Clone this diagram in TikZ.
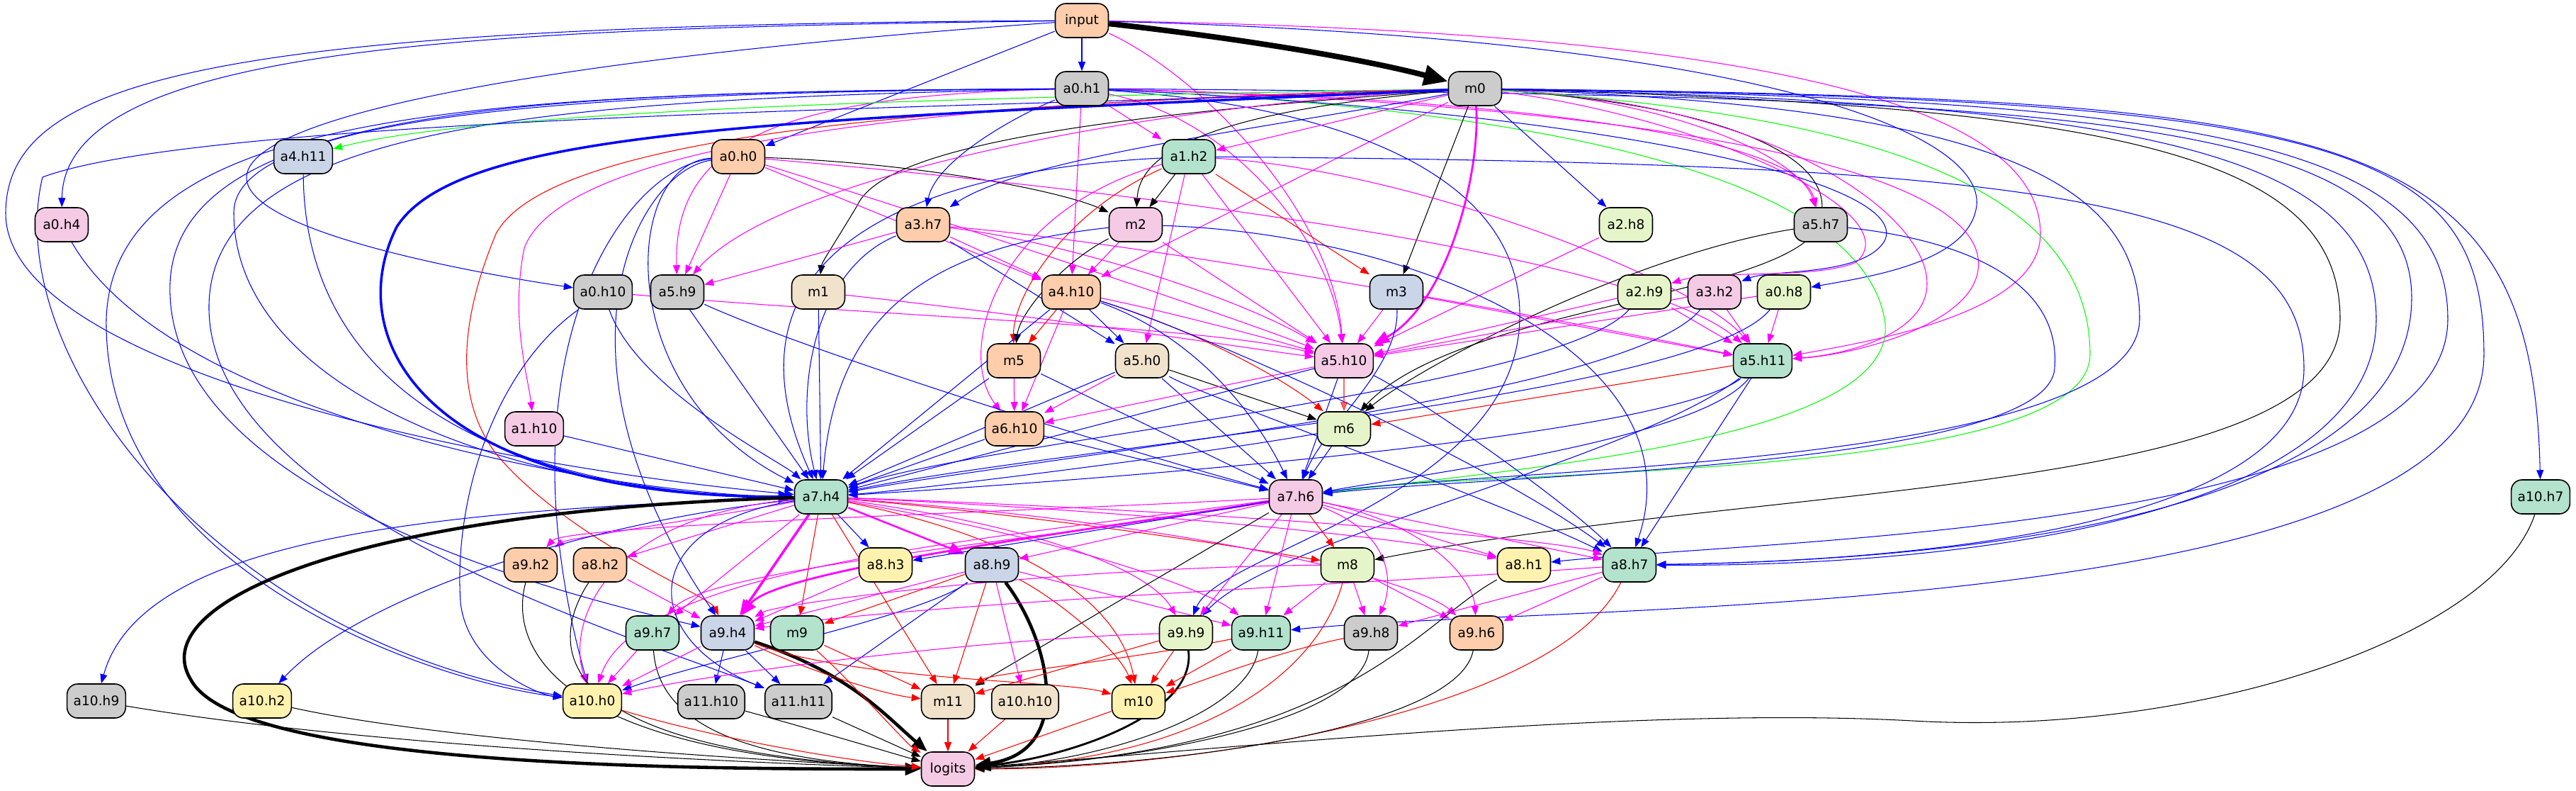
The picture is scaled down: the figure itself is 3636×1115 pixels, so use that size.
\documentclass[tikz,border=0pt]{standalone}
\usepackage{fontspec}
\setmainfont{DejaVu Sans}
\usetikzlibrary{arrows.meta,backgrounds}
\definecolor{fgr}{HTML}{CCCCCC}
\definecolor{fpe}{HTML}{FDCDAC}
\definecolor{fmi}{HTML}{B3E2CD}
\definecolor{fbl}{HTML}{CBD5E8}
\definecolor{fpi}{HTML}{F4CAE4}
\definecolor{flg}{HTML}{E6F5C9}
\definecolor{fye}{HTML}{FFF2AE}
\definecolor{fbe}{HTML}{F1E2CC}
\definecolor{cB}{RGB}{0,0,255}
\definecolor{cM}{RGB}{255,0,255}
\definecolor{cR}{RGB}{255,0,0}
\definecolor{cG}{RGB}{0,255,0}
\tikzset{
  nd/.style={draw=black, line width=0.45pt, rounded corners=1.5mm, minimum width=7.5mm,
    minimum height=4.8mm, inner xsep=0.9mm, inner ysep=0.4mm, font=\fontsize{5.3}{6}\selectfont},
  ed/.style={line width=0.3pt, -{Triangle[length=1.3mm,width=1mm]}},
  lb/.style={ed, draw=cB},
  lm/.style={ed, draw=cM},
  lr/.style={ed, draw=cR},
  lk/.style={ed, draw=black},
  lg/.style={ed, draw=cG},
  thk/.style={line width=#1, -{Triangle[length=2.2mm,width=1.7mm]}},
}
\begin{document}
\begin{tikzpicture}[x=0.1mm,y=-0.1mm]
\useasboundingbox (0,0) rectangle (3636,1115);
% ---------- nodes
\node[nd,fill=fpe] (input) at (1527,29) {input};
\node[nd,fill=fgr] (a0h1) at (1527,125) {a0.h1};
\node[nd,fill=fgr] (m0) at (2082,125) {m0};
\node[nd,fill=fbl] (a4h11) at (428,221) {a4.h11};
\node[nd,fill=fpe] (a0h0) at (1042,221) {a0.h0};
\node[nd,fill=fmi] (a1h2) at (1678,221) {a1.h2};
\node[nd,fill=fpi] (a0h4) at (87,317) {a0.h4};
\node[nd,fill=fpe] (a3h7) at (1303,317) {a3.h7};
\node[nd,fill=fpi] (m2) at (1603,317) {m2};
\node[nd,fill=flg] (a2h8) at (2295,317) {a2.h8};
\node[nd,fill=fgr] (a5h7) at (2570,317) {a5.h7};
\node[nd,fill=fgr] (a0h10) at (851,412) {a0.h10};
\node[nd,fill=fgr] (a5h9) at (956,412) {a5.h9};
\node[nd,fill=fbe] (m1) at (1155,412) {m1};
\node[nd,fill=fpe] (a4h10) at (1512,412) {a4.h10};
\node[nd,fill=fbl] (m3) at (1971,412) {m3};
\node[nd,fill=flg] (a2h9) at (2321,412) {a2.h9};
\node[nd,fill=fpi] (a3h2) at (2420,412) {a3.h2};
\node[nd,fill=flg] (a0h8) at (2518,412) {a0.h8};
\node[nd,fill=fpe] (m5) at (1431,509) {m5};
\node[nd,fill=fbe] (a5h0) at (1612,509) {a5.h0};
\node[nd,fill=fpi] (a5h10) at (1897,509) {a5.h10};
\node[nd,fill=fmi] (a5h11) at (2488,509) {a5.h11};
\node[nd,fill=fpi] (a1h10) at (754,605) {a1.h10};
\node[nd,fill=fpe] (a6h10) at (1432,605) {a6.h10};
\node[nd,fill=flg] (m6) at (1897,605) {m6};
\node[nd,fill=fmi] (a7h4) at (1159,701) {a7.h4};
\node[nd,fill=fpi] (a7h6) at (1829,701) {a7.h6};
\node[nd,fill=fmi] (a10h7) at (3586,701) {a10.h7};
\node[nd,fill=fpe] (a9h2) at (749,797) {a9.h2};
\node[nd,fill=fpe] (a8h2) at (847,797) {a8.h2};
\node[nd,fill=fye] (a8h3) at (1250,797) {a8.h3};
\node[nd,fill=fbl] (a8h9) at (1400,797) {a8.h9};
\node[nd,fill=flg] (m8) at (1902,797) {m8};
\node[nd,fill=fye] (a8h1) at (2151,797) {a8.h1};
\node[nd,fill=fmi] (a8h7) at (2300,797) {a8.h7};
\node[nd,fill=fmi] (a9h7) at (921,893) {a9.h7};
\node[nd,fill=fbl] (a9h4) at (1027,893) {a9.h4};
\node[nd,fill=fmi] (m9) at (1125,893) {m9};
\node[nd,fill=flg] (a9h9) at (1674,893) {a9.h9};
\node[nd,fill=fmi] (a9h11) at (1780,893) {a9.h11};
\node[nd,fill=fgr] (a9h8) at (1935,893) {a9.h8};
\node[nd,fill=fpe] (a9h6) at (2084,893) {a9.h6};
\node[nd,fill=fgr] (a10h9) at (136,989) {a10.h9};
\node[nd,fill=fye] (a10h2) at (370,989) {a10.h2};
\node[nd,fill=fye] (a10h0) at (836,989) {a10.h0};
\node[nd,fill=fgr] (a11h10) at (1004,990) {a11.h10};
\node[nd,fill=fgr] (a11h11) at (1127,990) {a11.h11};
\node[nd,fill=fbe] (m11) at (1338,990) {m11};
\node[nd,fill=fbe] (a10h10) at (1447,990) {a10.h10};
\node[nd,fill=fye] (m10) at (1607,990) {m10};
\node[nd,fill=fpi] (logits) at (1338,1085) {logits};
% ---------- edges
\begin{scope}[on background layer]
\fill[white] (0,0) rectangle (3636,1115);
% input
\draw[lb] (input) -- (a0h1);
\draw[lk,thk=2.2pt,-{Triangle[length=3.4mm,width=2.8mm]}] (input) .. controls (1800,60) and (1950,90) .. (m0);
\draw[lb] (input) -- (a0h0);
\draw[lb] (input) .. controls (700,40) and (90,60) .. (a0h4);
\draw[lb] (input) .. controls (300,35) and (10,110) .. (8,300) .. controls (6,520) and (700,660) .. (a7h4);
\draw[lb] (input) .. controls (800,80) and (350,160) .. (348,250) .. controls (346,330) and (700,390) .. (a0h10);
\draw[lm] (input) .. controls (1700,110) and (1880,300) .. (a5h10);
\draw[lm] (input) .. controls (2500,45) and (2880,150) .. (2880,330) .. controls (2880,440) and (2650,480) .. (a5h11);
\draw[lb] (input) .. controls (2500,55) and (2800,190) .. (2790,290) .. controls (2780,370) and (2640,390) .. (a0h8);
% a0h1
\draw[lb] (a0h1) .. controls (1420,170) and (1320,230) .. (a3h7);
\draw[lm] (a0h1) -- (a1h2);
\draw[lm] (a0h1) -- (a4h10);
\draw[lm] (a0h1) .. controls (1100,135) and (950,200) .. (a5h9);
\draw[lm] (a0h1) .. controls (1750,170) and (1880,350) .. (a5h10);
\draw[lm] (a0h1) .. controls (2200,140) and (2540,200) .. (a5h7);
\draw[lm] (a0h1) .. controls (2400,150) and (2830,250) .. (2790,390) .. controls (2770,460) and (2620,500) .. (a5h11);
\draw[lb] (a0h1) .. controls (1000,130) and (330,140) .. (330,300) .. controls (330,560) and (750,700) .. (a7h4);
\draw[lg] (a0h1) .. controls (2100,150) and (2620,230) .. (2660,450) .. controls (2690,620) and (2150,660) .. (a7h6);
\draw[lb] (a0h1) .. controls (2300,160) and (2700,260) .. (2660,340) .. controls (2630,390) and (2500,380) .. (a3h2);
\draw[lb] (a0h1) .. controls (800,130) and (250,140) .. (240,400) .. controls (230,700) and (800,840) .. (a9h4);
\draw[lb] (a0h1) .. controls (700,130) and (160,150) .. (150,450) .. controls (145,800) and (600,960) .. (a10h0);
\draw[lb] (a0h1) .. controls (800,140) and (300,170) .. (295,430) .. controls (290,720) and (900,900) .. (a11h11);
\draw[lb] (a0h1) .. controls (2900,135) and (3404,160) .. (3404,420) .. controls (3404,720) and (2800,790) .. (a8h7);
\draw[lb] (a0h1) .. controls (1900,150) and (2150,250) .. (2145,450) .. controls (2140,700) and (1720,780) .. (a9h9);
% m0
\draw[lm] (m0) -- (a1h2);
\draw[lb] (m0) .. controls (1800,180) and (1450,220) .. (a3h7);
\draw[lk] (m0) .. controls (1800,150) and (1610,190) .. (m2);
\draw[lk] (m0) .. controls (1600,160) and (1250,200) .. (1210,290) .. controls (1180,340) and (1160,370) .. (m1);
\draw[lk] (m0) -- (m3);
\draw[lb] (m0) -- (a2h8);
\draw[lm] (m0) .. controls (2350,140) and (2540,220) .. (a5h7);
\draw[lm,thk=0.8pt] (m0) .. controls (2090,250) and (2040,430) .. (a5h10);
\draw[lm] (m0) -- (a4h10);
\draw[lm] (m0) .. controls (1600,150) and (1100,250) .. (a5h9);
\draw[lg] (m0) .. controls (1500,135) and (700,150) .. (a4h11);
\draw[lm] (m0) .. controls (1400,140) and (800,190) .. (740,350) .. controls (720,450) and (745,530) .. (a1h10);
\draw[lr] (m0) .. controls (1400,145) and (780,180) .. (700,330) .. controls (650,450) and (640,560) .. (700,640) .. controls (800,760) and (1000,840) .. (a9h4);
\draw[lb,thk=1pt] (m0) .. controls (1100,170) and (650,180) .. (560,320) .. controls (480,480) and (600,700) .. (a7h4);
\draw[lk] (m0) .. controls (2450,150) and (2620,230) .. (2560,330) .. controls (2480,420) and (2050,440) .. (m6);
\draw[lm] (m0) .. controls (2500,145) and (2720,300) .. (2720,400) .. controls (2720,470) and (2610,500) .. (a5h11);
\draw[lm] (m0) .. controls (2400,165) and (2700,300) .. (2620,370) .. controls (2560,395) and (2420,380) .. (a2h9);
\draw[lg] (m0) .. controls (2600,160) and (2950,250) .. (2950,500) .. controls (2950,680) and (2100,660) .. (a7h6);
\draw[lb] (m0) .. controls (2800,150) and (3020,250) .. (3020,450) .. controls (3020,660) and (2100,660) .. (a7h6);
\draw[lk] (m0) .. controls (3000,150) and (3303,220) .. (3303,450) .. controls (3303,700) and (2500,680) .. (m8);
\draw[lb] (m0) .. controls (3300,140) and (3575,170) .. (a10h7);
\draw[lb] (m0) .. controls (3300,140) and (3506,200) .. (3506,500) .. controls (3506,880) and (2200,850) .. (a9h11);
\draw[lb] (m0) .. controls (3100,140) and (3455,200) .. (3455,450) .. controls (3455,750) and (2500,760) .. (a8h1);
\draw[lb] (m0) .. controls (3000,145) and (3354,210) .. (3354,450) .. controls (3354,720) and (2800,800) .. (a8h7);
\draw[lb] (m0) .. controls (1500,150) and (300,160) .. (60,250) .. controls (0,500) and (300,900) .. (a10h0);
% a0h0
\draw[lk] (a0h0) .. controls (1300,230) and (1500,270) .. (m2);
\draw[lm] (a0h0) -- (a5h9);
\draw[lm] (a0h0) -- (a4h10);
\draw[lm] (a0h0) .. controls (1300,300) and (1750,450) .. (a5h10);
\draw[lm] (a0h0) .. controls (1500,260) and (2300,350) .. (a5h11);
\draw[lb] (a0h0) .. controls (880,230) and (860,550) .. (a7h4);
\draw[lb] (a0h0) .. controls (900,240) and (760,500) .. (a9h4);
\draw[lb] (a0h0) .. controls (880,235) and (700,500) .. (a10h0);
% other early layers
\draw[lb] (a4h11) .. controls (430,600) and (800,700) .. (a7h4);
\draw[lb] (a0h4) .. controls (250,600) and (900,700) .. (a7h4);
\draw[lb] (a0h10) .. controls (900,550) and (1100,650) .. (a7h4);
\draw[lb] (a0h10) .. controls (700,520) and (640,700) .. (650,850) .. controls (660,940) and (760,980) .. (a10h0);
\draw[lm] (a0h10) .. controls (1300,450) and (1700,460) .. (a5h10);
% a1h2
\draw[lk] (a1h2) -- (m2);
\draw[lr] (a1h2) -- (m3);
\draw[lr] (a1h2) .. controls (1500,300) and (1430,420) .. (m5);
\draw[lm] (a1h2) -- (a5h0);
\draw[lm] (a1h2) -- (a5h10);
\draw[lm] (a1h2) .. controls (2000,240) and (2400,400) .. (a5h11);
\draw[lb] (a1h2) .. controls (1300,240) and (1000,350) .. (a7h4);
\draw[lm] (a1h2) .. controls (1400,300) and (1350,500) .. (a6h10);
\draw[lb] (a1h2) .. controls (2900,230) and (3252,280) .. (3252,520) .. controls (3252,720) and (2800,790) .. (a8h7);
% a3h7
\draw[lm] (a3h7) -- (a5h9);
\draw[lm] (a3h7) -- (a4h10);
\draw[lb] (a3h7) -- (a5h0);
\draw[lm] (a3h7) .. controls (1500,340) and (1750,420) .. (a5h10);
\draw[lm] (a3h7) .. controls (1600,340) and (2200,450) .. (a5h11);
\draw[lb] (a3h7) .. controls (1150,380) and (1120,550) .. (a7h4);
% m2
\draw[lm] (m2) -- (a4h10);
\draw[lk] (m2) .. controls (1500,370) and (1440,440) .. (m5);
\draw[lm] (m2) -- (a5h10);
\draw[lb] (m2) .. controls (1300,350) and (1180,450) .. (a7h4);
\draw[lb] (m2) .. controls (2000,330) and (2400,500) .. (a8h7);
% layer 2-5
\draw[lm] (a2h8) -- (a5h10);
\draw[lk] (a5h7) .. controls (2300,360) and (2000,520) .. (m6);
\draw[lb] (a5h7) .. controls (2780,340) and (2910,400) .. (2900,520) .. controls (2890,660) and (2100,670) .. (a7h6);
\draw[lb] (a5h9) -- (a7h4);
\draw[lb] (a5h9) .. controls (1150,500) and (1600,640) .. (a7h6);
\draw[lb] (m1) -- (a7h4);
\draw[lm] (m1) .. controls (1500,450) and (1750,490) .. (a5h10);
\draw[lr] (a4h10) -- (m5);
\draw[lb] (a4h10) -- (a5h0);
\draw[lm] (a4h10) .. controls (1650,440) and (1800,480) .. (a5h10);
\draw[lm] (a4h10) -- (a6h10);
\draw[lr] (a4h10) .. controls (1700,470) and (1820,540) .. (m6);
\draw[lb] (a4h10) -- (a7h4);
\draw[lb] (a4h10) .. controls (1700,480) and (1780,600) .. (a7h6);
\draw[lb] (a4h10) .. controls (1700,470) and (2100,650) .. (a8h7);
\draw[lm] (m3) -- (a5h10);
\draw[lm] (m3) -- (a5h11);
\draw[lb] (m3) .. controls (1975,520) and (1870,600) .. (a7h6);
\draw[lm] (a2h9) -- (a5h10);
\draw[lm] (a2h9) -- (a5h11);
\draw[lb] (a2h9) .. controls (2200,550) and (1400,620) .. (a7h4);
\draw[lm] (a3h2) -- (a5h10);
\draw[lm] (a3h2) -- (a5h11);
\draw[lb] (a3h2) .. controls (2300,560) and (1500,640) .. (a7h4);
\draw[lm] (a0h8) -- (a5h10);
\draw[lm] (a0h8) -- (a5h11);
\draw[lb] (a0h8) .. controls (2400,560) and (1500,630) .. (a7h4);
\draw[lm] (m5) -- (a6h10);
\draw[lb] (m5) -- (a7h4);
\draw[lb] (m5) -- (a7h6);
\draw[lm] (a5h0) -- (a6h10);
\draw[lk] (a5h0) -- (m6);
\draw[lb] (a5h0) -- (a7h4);
\draw[lb] (a5h0) -- (a7h6);
\draw[lb] (a5h0) .. controls (1700,560) and (2100,700) .. (a8h7);
\draw[lr,opacity=0.6] (a5h10) -- (m6);
\draw[lm] (a5h10) -- (a6h10);
\draw[lb] (a5h10) -- (a7h4);
\draw[lb] (a5h10) -- (a7h6);
\draw[lb] (a5h10) .. controls (2000,560) and (2200,700) .. (a8h7);
\draw[lr] (a5h11) -- (m6);
\draw[lb] (a5h11) .. controls (2350,620) and (1500,680) .. (a7h4);
\draw[lb] (a5h11) .. controls (2400,620) and (2000,670) .. (a7h6);
\draw[lb] (a5h11) -- (a8h7);
\draw[lb] (a5h11) .. controls (2300,650) and (1800,760) .. (a9h9);
\draw[lb] (a1h10) -- (a7h4);
\draw[lb] (a6h10) -- (a7h4);
\draw[lb] (a6h10) -- (a7h6);
\draw[lb] (m6) -- (a7h6);
\draw[lb] (m6) .. controls (1700,640) and (1300,690) .. (a7h4);
% a7h4
\draw[lm] (a7h4) .. controls (1000,730) and (800,760) .. (a9h2);
\draw[lm] (a7h4) -- (a8h2);
\draw[lb] (a7h4) -- (a8h3);
\draw[lm,thk=0.7pt] (a7h4) -- (a8h9);
\draw[lm] (a7h4) -- (a9h7);
\draw[lm,thk=1pt] (a7h4) -- (a9h4);
\draw[lr] (a7h4) -- (m9);
\draw[lb] (a7h4) .. controls (600,720) and (200,760) .. (a10h9);
\draw[lb] (a7h4) .. controls (800,740) and (500,850) .. (a10h2);
\draw[lm] (a7h4) .. controls (850,730) and (800,880) .. (a10h0);
\draw[lb] (a7h4) .. controls (900,740) and (900,900) .. (a11h11);
\draw[lr] (a7h4) -- (m11);
\draw[lr] (a7h4) .. controls (1450,760) and (1580,850) .. (m10);
\draw[lk,thk=1.3pt] (a7h4) .. controls (500,720) and (200,850) .. (270,960) .. controls (340,1085) and (1000,1085) .. (logits);
\draw[lm] (a7h4) .. controls (1450,740) and (1620,800) .. (a9h9);
\draw[lm] (a7h4) .. controls (1500,760) and (1700,830) .. (a9h11);
\draw[lr] (a7h4) .. controls (1500,730) and (1800,780) .. (m8);
\draw[lm] (a7h4) .. controls (1600,720) and (2000,760) .. (a8h1);
\draw[lm] (a7h4) .. controls (1700,720) and (2200,760) .. (a8h7);
\draw[lm] (a7h4) .. controls (1700,740) and (2000,820) .. (a9h6);
% a7h6
\draw[lm,thk=0.8pt] (a7h6) .. controls (1600,740) and (1100,800) .. (a9h4);
\draw[lm] (a7h6) .. controls (1500,760) and (1000,800) .. (a9h7);
\draw[lm] (a7h6) -- (a8h9);
\draw[lb] (a7h6) .. controls (1600,740) and (1350,780) .. (a8h3);
\draw[lr] (a7h6) -- (m8);
\draw[lm] (a7h6) -- (a8h1);
\draw[lm] (a7h6) -- (a8h7);
\draw[lm] (a7h6) -- (a9h9);
\draw[lm] (a7h6) -- (a9h11);
\draw[lm] (a7h6) .. controls (1980,760) and (1960,840) .. (a9h8);
\draw[lm] (a7h6) .. controls (2020,740) and (2080,820) .. (a9h6);
\draw[lk] (a7h6) -- (m11);
\draw[lm] (a7h6) .. controls (1400,760) and (900,800) .. (a10h0);
\draw[lm] (a7h6) .. controls (1500,720) and (800,740) .. (a9h2);
% layer 8
\draw[lm] (a8h9) -- (a9h4);
\draw[lr] (a8h9) -- (m9);
\draw[lm] (a8h9) -- (a9h11);
\draw[lb] (a8h9) -- (a11h11);
\draw[lr] (a8h9) -- (m11);
\draw[lm] (a8h9) -- (a10h10);
\draw[lr] (a8h9) .. controls (1500,850) and (1580,920) .. (m10);
\draw[lk,thk=1.3pt] (a8h9) .. controls (1480,900) and (1520,1060) .. (logits);
\draw[lb] (a8h9) .. controls (1300,870) and (1000,930) .. (a10h0);
\draw[lm] (a8h3) -- (a9h4);
\draw[lm] (a8h2) -- (a9h4);
\draw[lk] (a8h2) .. controls (780,900) and (750,1060) .. (logits);
\draw[lk] (a9h2) .. controls (720,900) and (760,1065) .. (logits);
\draw[lm] (m8) .. controls (1500,800) and (1100,850) .. (a9h4);
\draw[lm] (m8) -- (a9h11);
\draw[lm] (m8) -- (a9h8);
\draw[lm] (m8) -- (a9h6);
\draw[lr] (m8) .. controls (1860,950) and (1700,1070) .. (logits);
\draw[lk] (a8h1) .. controls (2000,880) and (1900,1060) .. (logits);
\draw[lm] (a8h7) .. controls (2000,820) and (1300,850) .. (a9h4);
\draw[lm] (a8h7) -- (a9h8);
\draw[lm] (a8h7) -- (a9h6);
\draw[lr] (a8h7) .. controls (2200,1000) and (1700,1085) .. (logits);
% layer 9
\draw[lm] (a9h7) -- (a10h0);
\draw[lk] (a9h7) .. controls (930,1040) and (1100,1075) .. (logits);
\draw[lm] (a9h4) -- (a10h0);
\draw[lb] (a9h4) -- (a11h10);
\draw[lb] (a9h4) -- (a11h11);
\draw[lk,thk=1.3pt] (a9h4) .. controls (1200,950) and (1250,1010) .. (logits);
\draw[lr] (a9h4) .. controls (1150,950) and (1250,980) .. (m11);
\draw[lr] (a9h4) .. controls (1200,960) and (1500,960) .. (m10);
\draw[lr] (m9) -- (m11);
\draw[lr] (m9) .. controls (1200,960) and (1280,1050) .. (logits);
\draw[lr] (a9h9) -- (m10);
\draw[lr] (a9h9) -- (m11);
\draw[lm] (a9h9) .. controls (1400,900) and (1000,950) .. (a10h0);
\draw[lk,thk=0.8pt] (a9h9) .. controls (1690,1010) and (1500,1070) .. (logits);
\draw[lr] (a9h11) -- (m10);
\draw[lr] (a9h11) .. controls (1600,930) and (1400,950) .. (m11);
\draw[lk] (a9h11) .. controls (1760,1010) and (1550,1075) .. (logits);
\draw[lr] (a9h8) .. controls (1800,920) and (1700,960) .. (m10);
\draw[lk] (a9h8) .. controls (1920,1020) and (1600,1075) .. (logits);
\draw[lk] (a9h6) .. controls (2060,1020) and (1700,1080) .. (logits);
% layer 10-11
\draw[lk] (a10h9) .. controls (500,1050) and (1000,1075) .. (logits);
\draw[lk] (a10h2) .. controls (600,1040) and (1000,1070) .. (logits);
\draw[lr] (a10h0) .. controls (1000,1040) and (1200,1075) .. (logits);
\draw[lk] (a11h10) .. controls (1150,1030) and (1250,1060) .. (logits);
\draw[lk] (a11h11) -- (logits);
\draw[lr] (m11) -- (logits);
\draw[lr] (a10h10) -- (logits);
\draw[lr] (m10) -- (logits);
\draw[lk] (a10h7) .. controls (3520,900) and (3100,1040) .. (2700,1017) .. controls (2300,995) and (1700,1060) .. (logits);
\end{scope}
\end{tikzpicture}
\end{document}
